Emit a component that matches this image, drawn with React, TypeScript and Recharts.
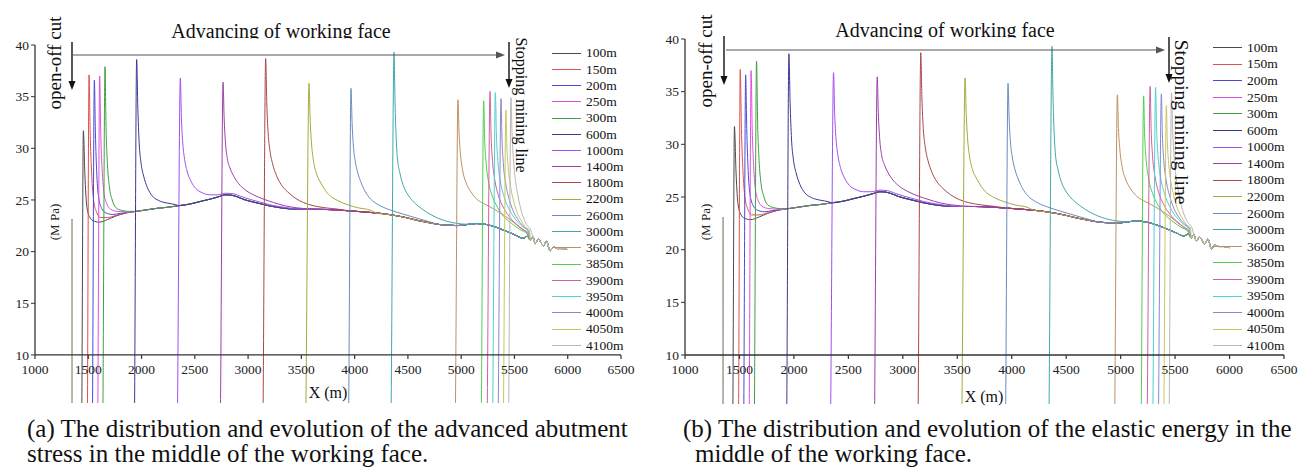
import React from "react";
import {
  LineChart,
  Line,
  XAxis,
  YAxis,
  ReferenceLine,
  ReferenceDot,
  Legend,
} from "recharts";

const SERIF = "'Liberation Serif', 'Times New Roman', serif";

// advance distance of the face for each curve
const SERIES_NAMES = [
  "100m", "150m", "200m", "250m", "300m", "600m", "1000m", "1400m", "1800m",
  "2200m", "2600m", "3000m", "3600m", "3850m", "3900m", "3950m", "4000m",
  "4050m", "4100m",
];

// where the curve leaves the goaf, and the abutment peak ahead of the face
const RISE_X = [1435, 1488, 1535, 1585, 1632, 1929, 2330, 2734, 3134, 3534, 3938, 4335, 4939, 5183, 5237, 5289, 5340, 5390, 5440];
const PEAK_X = [1454, 1507, 1557, 1607, 1657, 1954, 2364, 2765, 3165, 3572, 3966, 4370, 4970, 5211, 5271, 5321, 5374, 5420, 5467];
const PEAK_Y = [31.7, 37.1, 36.6, 37.0, 37.9, 38.6, 36.8, 36.4, 38.7, 36.3, 35.8, 39.3, 34.7, 34.6, 35.5, 35.4, 34.8, 33.7, 34.9];

// open-off cut edge
const CUT_X = 1347;
const CUT_Y = 23.1;

// decay of each curve after its peak
const TAILS: number[][][] = [
  [[1468, 27.5], [1485, 24.5], [1510, 23.4], [1545, 23.0], [1600, 22.85], [1680, 23.1], [1760, 23.45], [1840, 23.7]],
  [[1518, 31.5], [1532, 27.5], [1550, 25.0], [1575, 23.9], [1615, 23.3], [1680, 23.3], [1760, 23.5], [1840, 23.72]],
  [[1567, 31.5], [1580, 27.5], [1598, 25.2], [1625, 24.2], [1665, 23.75], [1730, 23.6], [1800, 23.7], [1860, 23.78]],
  [[1617, 31.5], [1630, 28], [1648, 25.6], [1675, 24.6], [1710, 24.1], [1770, 23.9], [1840, 23.85]],
  [[1667, 32], [1680, 28.5], [1698, 26.3], [1725, 25.0], [1760, 24.25], [1810, 24.0], [1880, 23.9]],
  [[1965, 34], [1978, 30.5], [1995, 28.6], [2020, 27.3], [2055, 26.2], [2100, 25.4], [2160, 24.95], [2240, 24.7], [2320, 24.55]],
  [[2374, 33], [2387, 30.5], [2405, 28.9], [2430, 27.7], [2465, 26.8], [2510, 26.1], [2570, 25.7], [2640, 25.5], [2710, 25.5], [2790, 25.65], [2860, 25.6], [2930, 25.35], [3020, 25.05], [3110, 24.8], [3200, 24.55], [3300, 24.35], [3400, 24.2]],
  [[2775, 33], [2788, 30.5], [2805, 29.0], [2830, 28.1], [2865, 27.3], [2910, 26.6], [2970, 26.0], [3050, 25.5], [3140, 25.1], [3240, 24.75], [3340, 24.45], [3450, 24.25], [3600, 24.12]],
  [[3175, 34.5], [3188, 31.5], [3205, 29.8], [3230, 28.5], [3265, 27.4], [3310, 26.5], [3370, 25.8], [3440, 25.2], [3520, 24.75], [3610, 24.45], [3720, 24.25], [3850, 24.1]],
  [[3582, 33], [3595, 30.5], [3612, 28.9], [3640, 27.6], [3675, 26.8], [3720, 26.0], [3770, 25.4], [3840, 24.95], [3930, 24.55], [4030, 24.25], [4150, 24.0]],
  [[3976, 32.5], [3990, 30], [4005, 28.8], [4030, 27.6], [4060, 26.7], [4100, 25.8], [4150, 25.1], [4220, 24.55], [4330, 24.05], [4450, 23.65], [4580, 23.25], [4700, 22.9]],
  [[4378, 35], [4388, 31.5], [4400, 29.2], [4425, 27.6], [4457, 26.4], [4500, 25.5], [4560, 24.75], [4630, 24.15], [4720, 23.55], [4830, 23.05], [4958, 22.74], [5050, 22.65]],
  [[4980, 31.5], [4993, 29.5], [5015, 27.8], [5045, 26.7], [5090, 25.8], [5150, 25.05], [5230, 24.55], [5320, 24.05], [5410, 23.45], [5490, 22.85], [5560, 22.25], [5620, 21.7]],
  [[5220, 31], [5235, 28.5], [5260, 26.6], [5295, 25.3], [5340, 24.3], [5400, 23.4], [5470, 22.75], [5550, 22.15], [5622, 21.7]],
  [[5280, 31.5], [5294, 28.8], [5318, 26.8], [5350, 25.4], [5395, 24.3], [5450, 23.4], [5515, 22.7], [5580, 22.15], [5625, 21.8]],
  [[5330, 31.5], [5344, 28.8], [5368, 26.8], [5400, 25.4], [5445, 24.2], [5500, 23.25], [5560, 22.55], [5628, 21.9]],
  [[5383, 31], [5396, 28.5], [5418, 26.6], [5450, 25.1], [5490, 23.9], [5540, 23.0], [5590, 22.4], [5632, 22.0]],
  [[5428, 30.5], [5441, 28.2], [5462, 26.4], [5490, 25.0], [5525, 23.8], [5570, 22.9], [5612, 22.3], [5640, 22.1]],
  [[5477, 31.5], [5490, 29], [5508, 27], [5535, 25.3], [5565, 23.9], [5600, 22.9], [5630, 22.4], [5650, 22.2]],
];

// common undisturbed profile that every curve settles onto
const BASE_X = [1880, 1950, 2050, 2150, 2250, 2350, 2450, 2550, 2650, 2720, 2790, 2850, 2900, 2960, 3030, 3110, 3190, 3270, 3380, 3500, 3650, 3800, 3950, 4080, 4200, 4350, 4480, 4600, 4700, 4800, 4900, 4960, 5040, 5140, 5240, 5330, 5430, 5510, 5580, 5625, 5650, 5672, 5695, 5725, 5750, 5772, 5800, 5835, 5865, 5900, 5950, 6000];
const BASE_Y = [23.8, 23.9, 24.05, 24.2, 24.3, 24.45, 24.6, 24.85, 25.1, 25.3, 25.5, 25.45, 25.3, 25.05, 24.85, 24.65, 24.45, 24.3, 24.15, 24.1, 24.1, 24.05, 23.95, 23.85, 23.75, 23.55, 23.3, 23.0, 22.8, 22.62, 22.55, 22.52, 22.6, 22.72, 22.62, 22.35, 21.95, 21.6, 21.3, 21.5, 21.1, 21.45, 20.8, 21.2, 20.85, 20.55, 21.0, 20.1, 20.45, 20.3, 20.3, 20.2];

const X_TICKS = [1000, 1500, 2000, 2500, 3000, 3500, 4000, 4500, 5000, 5500, 6000, 6500];
const Y_TICKS = [10, 15, 20, 25, 30, 35, 40];

const COLORS = [
  "#4a4a4a", "#e05050", "#4a4ad8", "#e050e0", "#40a040", "#3a3a90", "#a050f0",
  "#9a40a8", "#a84848", "#a8a840", "#6a8cc0", "#40a8a8", "#c09060", "#50d050",
  "#d060a0", "#50d0d0", "#8888d0", "#c8c860", "#b8b8b8",
];

function buildSeries(i: number) {
  const pts = [
    { x: CUT_X - 3, y: 0 },
    { x: CUT_X, y: CUT_Y },
    { x: CUT_X + 3, y: 0 },
    { x: RISE_X[i], y: 0 },
    { x: PEAK_X[i], y: PEAK_Y[i] },
    ...TAILS[i].map(([x, y]) => ({ x, y })),
  ];
  const lastX = pts[pts.length - 1].x;
  BASE_X.forEach((x, k) => {
    if (x > lastX) pts.push({ x, y: BASE_Y[k] });
  });
  return pts;
}

const SERIES = SERIES_NAMES.map((_, i) => buildSeries(i));

const XTick = (props: any) => {
  const { cx, cy, payloadValue } = props;
  return (
    <g>
      <line x1={cx} y1={cy} x2={cx} y2={cy + 4} stroke="#333" strokeWidth={1.2} />
      <text
        x={cx}
        y={cy + 19}
        textAnchor="middle"
        fill="#222"
        style={{ fontFamily: SERIF, fontSize: 13.5 }}
      >
        {payloadValue}
      </text>
    </g>
  );
};

// legend keeps the series order (recharts would sort it by name)
const legendContent = (rowH: number) => () => (
  <div style={{ fontFamily: SERIF }}>
    {SERIES_NAMES.map((name, i) => (
      <div key={name} style={{ display: "flex", alignItems: "center", height: rowH }}>
        <span style={{ width: 29, borderTop: `1.5px solid ${COLORS[i]}`, marginRight: 5 }} />
        <span style={{ fontSize: 13.5, color: "#111", lineHeight: 1 }}>{name}</span>
      </div>
    ))}
  </div>
);

interface PanelProps {
  left: number;
  width: number;
  axisWidth: number;
  top: number;
  right: number;
  bottom: number;
  legendLeft: number;
  legendTop: number;
  rowH: number;
}

function Panel(p: PanelProps) {
  return (
    <div style={{ position: "absolute", left: p.left, top: 0 }}>
      <LineChart
        width={p.width}
        height={410}
        margin={{ top: p.top, right: p.right, bottom: p.bottom, left: 0 }}
      >
        <XAxis dataKey="x" type="number" domain={[1000, 6500]} allowDataOverflow hide />
        <YAxis
          type="number"
          domain={[5.35, 40]}
          allowDataOverflow
          ticks={Y_TICKS}
          interval={0}
          width={p.axisWidth}
          axisLine={false}
          tickLine={{ stroke: "#333" }}
          tickSize={4}
          tick={{ fontSize: 13.5, fill: "#222", style: { fontFamily: SERIF } }}
        />
        {SERIES.map((data, i) => (
          <Line
            key={SERIES_NAMES[i]}
            data={data}
            dataKey="y"
            name={SERIES_NAMES[i]}
            type="monotone"
            stroke={COLORS[i]}
            strokeWidth={1}
            dot={false}
            isAnimationActive={false}
          />
        ))}
        <ReferenceLine y={10} stroke="#333" strokeWidth={1.3} ifOverflow="visible" />
        <ReferenceLine
          segment={[{ x: 1000, y: 10 }, { x: 1000, y: 40 }]}
          stroke="#333"
          strokeWidth={1.3}
          ifOverflow="visible"
        />
        {X_TICKS.map((t) => (
          <ReferenceDot
            key={t}
            x={t}
            y={10}
            r={1}
            ifOverflow="visible"
            shape={(sp: any) => <XTick {...sp} payloadValue={t} />}
          />
        ))}
        <Legend
          layout="vertical"
          align="center"
          verticalAlign="middle"
          content={legendContent(p.rowH)}
          wrapperStyle={{ left: p.legendLeft, top: p.legendTop, width: 80 }}
        />
      </LineChart>
    </div>
  );
}

const Arrow = ({ x1, y1, x2, y2, color = "#111", w = 1.4 }: any) => {
  const ang = Math.atan2(y2 - y1, x2 - x1);
  const len = 9;
  const half = 3.5;
  const bx = x2 - len * Math.cos(ang);
  const by = y2 - len * Math.sin(ang);
  const px = -Math.sin(ang) * half;
  const py = Math.cos(ang) * half;
  return (
    <g>
      <line x1={x1} y1={y1} x2={bx} y2={by} stroke={color} strokeWidth={w} />
      <polygon points={`${x2},${y2} ${bx + px},${by + py} ${bx - px},${by - py}`} fill={color} />
    </g>
  );
};

function Annotations() {
  return (
    <svg
      width={1299}
      height={468}
      style={{ position: "absolute", left: 0, top: 0, pointerEvents: "none", fontFamily: SERIF }}
    >
      {/* panel (a) */}
      <text x={281} y={38} textAnchor="middle" fontSize={20} fill="#111">Advancing of working face</text>
      <rect x={160} y={38.5} width={245} height={7} fill="#fff" />
      <Arrow x1={73} y1={55} x2={505} y2={55} color="#555" w={1} />
      <text transform="translate(61,63) rotate(-90)" textAnchor="middle" fontSize={19} fill="#111">open-off cut</text>
      <Arrow x1={72} y1={42} x2={72} y2={90} />
      <text transform="translate(516,105) rotate(90)" textAnchor="middle" fontSize={16} fill="#111">Stopping mining line</text>
      <Arrow x1={509} y1={42} x2={509} y2={88} />
      <text transform="translate(59,222) rotate(-90)" textAnchor="middle" fontSize={13} fill="#222">(M Pa)</text>
      <text x={328} y={398} textAnchor="middle" fontSize={16} fill="#111">X (m)</text>
      <text x={27} y={437} fontSize={25} fill="#111">(a) The distribution and evolution of the advanced abutment</text>
      <text x={27} y={462} fontSize={25} fill="#111">stress in the middle of the working face.</text>

      {/* panel (b) */}
      <text x={945} y={37} textAnchor="middle" fontSize={20} fill="#111">Advancing of working face</text>
      <rect x={825} y={37.5} width={245} height={7} fill="#fff" />
      <Arrow x1={726} y1={50} x2={1165} y2={50} color="#555" w={1} />
      <text transform="translate(712,61) rotate(-90)" textAnchor="middle" fontSize={19} fill="#111">open-off cut</text>
      <Arrow x1={724} y1={36} x2={724} y2={85} />
      <text transform="translate(1175,122) rotate(90)" textAnchor="middle" fontSize={19.5} fill="#111">Stopping mining line</text>
      <Arrow x1={1169} y1={37} x2={1169} y2={83} />
      <text transform="translate(710,222) rotate(-90)" textAnchor="middle" fontSize={13} fill="#222">(M Pa)</text>
      <text x={984} y={402} textAnchor="middle" fontSize={16} fill="#111">X (m)</text>
      <text x={683} y={437} fontSize={25} fill="#111">(b) The distribution and evolution of the elastic energy in the</text>
      <text x={695} y={462} fontSize={25} fill="#111">middle of the working face.</text>
    </svg>
  );
}

export default function App() {
  return (
    <div
      style={{
        position: "absolute",
        left: 0,
        top: 0,
        width: 1299,
        height: 468,
        background: "#fff",
        overflow: "hidden",
        fontFamily: SERIF,
      }}
    >
      <Panel left={0} width={640} axisWidth={35} top={45} right={19} bottom={7} legendLeft={552} legendTop={45} rowH={16.24} />
      <Panel left={640} width={659} axisWidth={45} top={39} right={15} bottom={6} legendLeft={573} legendTop={39.4} rowH={16.57} />
      <Annotations />
    </div>
  );
}
